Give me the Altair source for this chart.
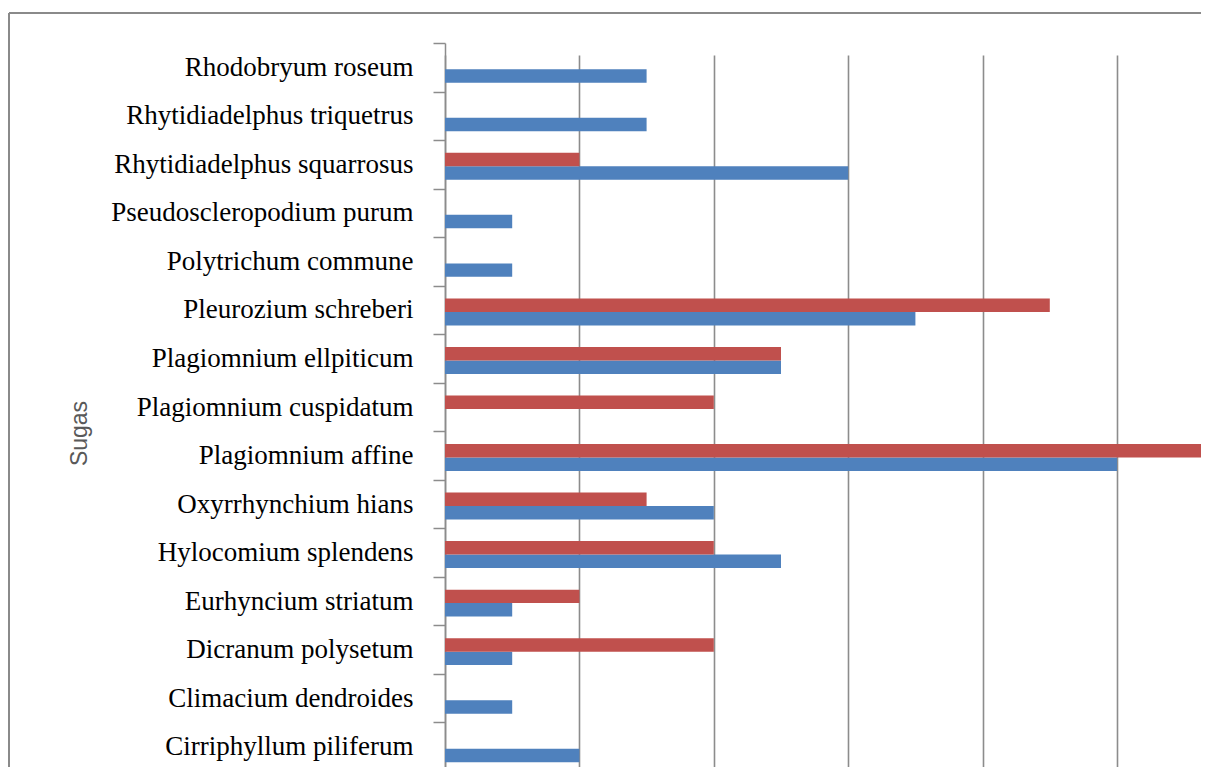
import altair as alt
import pandas as pd

species = [
    "Rhodobryum roseum",
    "Rhytidiadelphus  triquetrus",
    "Rhytidiadelphus squarrosus",
    "Pseudoscleropodium purum",
    "Polytrichum commune",
    "Pleurozium schreberi",
    "Plagiomnium ellpiticum",
    "Plagiomnium cuspidatum",
    "Plagiomnium affine",
    "Oxyrrhynchium hians",
    "Hylocomium splendens",
    "Eurhyncium striatum",
    "Dicranum polysetum",
    "Climacium dendroides",
    "Cirriphyllum piliferum",
]
series1 = [3, 3, 6, 1, 1, 7, 5, 0, 10, 4, 5, 1, 1, 1, 2]   # blue
series2 = [0, 0, 2, 0, 0, 9, 5, 4, 12, 3, 4, 2, 4, 0, 0]   # red
series_names = ["Series 1", "Series 2"]
series_colors = ["#4F81BD", "#C0504D"]
grid_values = [0, 2, 4, 6, 8, 10]

rows = []
for s, a, b in zip(species, series1, series2):
    rows.append({"Sugas": s, "series": series_names[0], "value": a})
    rows.append({"Sugas": s, "series": series_names[1], "value": b})
df = pd.DataFrame(rows)

W = 756
H = 740

bars = alt.Chart(df).mark_bar(clip=True).encode(
    y=alt.Y(
        "Sugas:N",
        sort=species,
        scale=alt.Scale(range=[0, 728], paddingInner=0, paddingOuter=0),
        axis=alt.Axis(
            title="Sugas",
            titleFont="Liberation Sans",
            titleFontSize=23,
            titleFontWeight="normal",
            titleColor="#595959",
            titleAngle=-90,
            titleAlign="center",
            titleBaseline="middle",
            titleX=-366,
            titleY=390,
            labelFont="Liberation Serif",
            labelFontSize=27,
            labelColor="#000000",
            labelPadding=20,
            labelLimit=600,
            tickBand="extent",
            tickSize=12,
            tickColor="#8c8c8c",
            tickWidth=1.5,
            domainColor="#8c8c8c",
            domainWidth=1.5,
            grid=False,
        ),
    ),
    yOffset=alt.YOffset(
        "series:N",
        sort=["Series 2", "Series 1"],
        scale=alt.Scale(range=[2, 50.5], paddingInner=0, paddingOuter=0.8),
    ),
    x=alt.X(
        "value:Q",
        scale=alt.Scale(domain=[0, 11.25], nice=False, zero=True),
        axis=alt.Axis(
            values=grid_values,
            labels=False,
            ticks=False,
            domain=False,
            title=None,
            grid=True,
            gridColor="#8c8c8c",
            gridWidth=1.6,
        ),
    ),
    color=alt.Color(
        "series:N",
        scale=alt.Scale(domain=series_names, range=series_colors),
        legend=None,
    ),
)

one = pd.DataFrame({"a": [0]})
left_border = alt.Chart(one).mark_rule(color="#8a8a8a", strokeWidth=2).encode(
    x=alt.value(-436), y=alt.value(-30), y2=alt.value(800)
)
top_border = alt.Chart(one).mark_rule(color="#8a8a8a", strokeWidth=2).encode(
    x=alt.value(-436), x2=alt.value(800), y=alt.value(-30)
)

chart = alt.layer(bars, left_border, top_border).properties(
    width=W,
    height=H,
    background="white",
    autosize=alt.AutoSizeParams(type="none"),
    padding={"left": 437, "top": 35, "right": 0, "bottom": 0},
).configure_view(stroke="transparent", strokeWidth=0)

chart.save("out.html", embed_options={"renderer": "svg", "actions": False})
